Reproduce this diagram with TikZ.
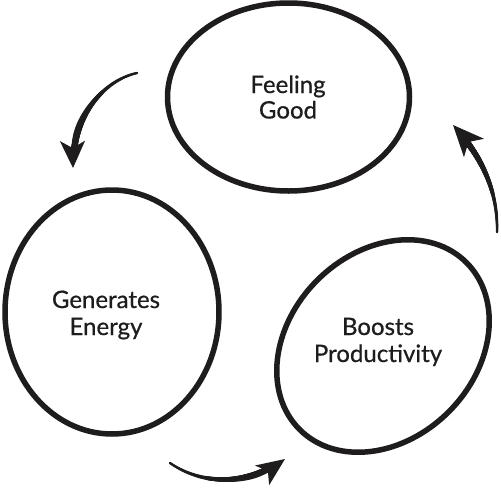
\documentclass[tikz,border=0pt]{standalone}
\usepackage{fontspec}
\setmainfont{Lato}
\newfontfamily\lblfont{Lato}[FakeBold=0.6]
\usetikzlibrary{shapes.geometric, arrows.meta, decorations.markings}
\definecolor{ink}{RGB}{30,28,29}
\begin{document}
\begin{tikzpicture}[x=1pt, y=-1pt,
  bubble/.style={draw=ink, ellipse, line width=5.5pt, inner sep=0pt},
  lbl/.style={anchor=base, font=\lblfont\fontsize{24}{28}\selectfont, text=ink, inner sep=0pt},
  taper/.style={postaction={decorate, decoration={markings,
    mark=between positions 0 and #1 step 0.6pt with {\fill[ink] (0,0) circle[radius={1.2pt+2.4pt*\pgfkeysvalueof{/pgf/decoration/mark info/distance from start}/\pgfdecoratedpathlength}];}}}},
  flow/.style={draw=ink, line width=2pt, line cap=round}]
\fill[white] (0,0) rectangle (501,490);
\useasboundingbox (0,0) rectangle (501,490);

% bubbles
\node[bubble, minimum width=242pt, minimum height=188pt] (good) at (288.5,97) {};
\node[bubble, minimum width=214pt, minimum height=244pt] (energy) at (112,312) {};
\node[bubble, minimum width=236pt, minimum height=186pt, rotate=45] (prod) at (383,346) {};

% labels
\node[lbl] (good1) at (288,93) {Feeling};
\node[lbl] (good2) at (288,118.5) {Good};
\node[lbl] (energy1) at (106,308) {Generates};
\node[lbl] (energy2) at (106,335) {Energy};
\node[lbl] (prod1) at (378,335) {Boosts};
\node[lbl] (prod2) at (378,362) {Productivity};

% arrows
\coordinate (a1s) at (137,73);  \coordinate (a1e) at (73,168);
\coordinate (a2s) at (170,463); \coordinate (a2e) at (285,459);
\coordinate (a3s) at (497,232); \coordinate (a3e) at (453,125);
\draw[flow, taper=0.84, -{Stealth[length=27pt, width=25pt, inset=7pt]}]
  (a1s) .. controls (105,80) and (72,115) .. (a1e);
\draw[flow, taper=0.84, -{Stealth[length=28pt, width=24pt, inset=7pt]}]
  (a2s) .. controls (205,487) and (250,484) .. (a2e);
\draw[flow, taper=0.82, -{Stealth[length=31pt, width=27pt, inset=8pt]}]
  (a3s) .. controls (498,195) and (485,160) .. (a3e);
\end{tikzpicture}
\end{document}
